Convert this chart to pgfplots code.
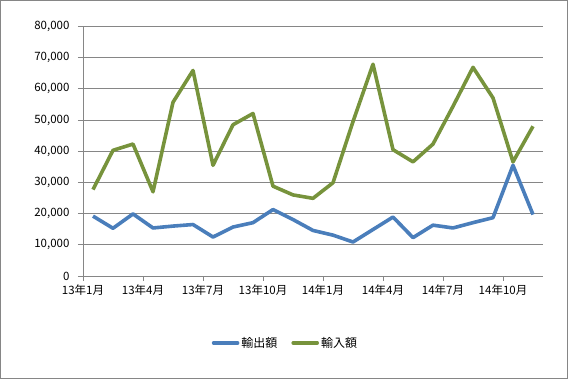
\documentclass[border=0pt]{standalone}
\usepackage{fontspec}
\setmainfont{Noto Sans CJK JP}
\usepackage{pgfplots}
\pgfplotsset{compat=1.18}
\definecolor{exblue}{HTML}{4A7EBB}
\definecolor{exgreen}{HTML}{77933C}
\definecolor{gridgray}{HTML}{868686}
\pgfplotstableread{
x exp imp
0.5 19200 27700
1.5 15300 40300
2.5 19900 42300
3.5 15400 27000
4.5 16000 55700
5.5 16500 65900
6.5 12500 35500
7.5 15700 48500
8.5 17100 52100
9.5 21300 28800
10.5 18100 26000
11.5 14600 24900
12.5 13100 29900
13.5 10900 49500
14.5 14900 67900
15.5 18900 40500
16.5 12300 36600
17.5 16300 42300
18.5 15400 54400
19.5 17100 66900
20.5 18700 57100
21.5 35500 36600
22.5 19700 48000
}\datatable
\begin{document}
\begin{tikzpicture}
\useasboundingbox (0pt,0pt) rectangle (568pt,379pt);
\draw[gridgray, line width=1pt] (0.5pt,0.5pt) rectangle (567.5pt,378.5pt);
\begin{axis}[
  at={(83pt,103pt)}, anchor=south west,
  width=460pt, height=249.5pt, scale only axis,
  xmin=0, xmax=23, ymin=0, ymax=80000,
  axis x line*=bottom, axis y line*=left,
  axis line style={gridgray, line width=0.8pt, -},
  ytick distance=10000,
  xtick={0,3,6,9,12,15,18,21},
  xticklabels={13年1月,13年4月,13年7月,13年10月,14年1月,14年4月,14年7月,14年10月},
  ymajorgrids, grid style={gridgray, line width=0.8pt},
  tick align=outside, major tick length=5pt,
  tick style={gridgray, line width=0.8pt},
  /pgf/number format/assume math mode=true,
  /pgf/number format/1000 sep={,},
  /pgf/number format/fixed,
  scaled y ticks=false,
  tick label style={font=\fontsize{11.5}{13}\selectfont, text=black},
  yticklabel shift=5pt,
  legend style={at={(0.44,-0.268)}, anchor=center, draw=none, fill=none,
    font=\fontsize{12}{14}\selectfont, legend columns=2,
    /tikz/every even column/.append style={column sep=12pt}},
  legend image code/.code={\draw[#1, line cap=round] (0pt,0pt) -- (24pt,0pt);},
]
\addplot[exblue, line width=3.6pt, line join=round] table[x=x, y=exp] {\datatable};
\addlegendentry{輸出額}
\addplot[exgreen, line width=3.6pt, line join=round] table[x=x, y=imp] {\datatable};
\addlegendentry{輸入額}
\end{axis}
\end{tikzpicture}
\end{document}
